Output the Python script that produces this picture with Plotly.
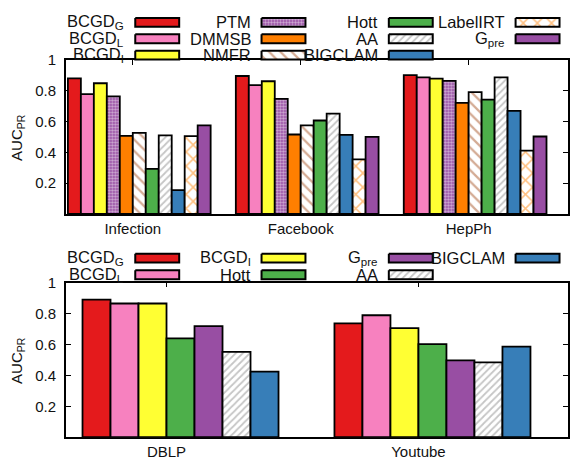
import plotly.graph_objects as go

W, H = 570, 466
FONT = "Liberation Sans, Arial, Helvetica, sans-serif"

# ---------------- data ----------------
top_groups = ["Infection", "Facebook", "HepPh"]
bottom_groups = ["DBLP", "Youtube"]

bcgd_g_top = [0.881, 0.896, 0.902]
bcgd_l_top = [0.779, 0.837, 0.887]
bcgd_i_top = [0.849, 0.862, 0.879]
ptm_top = [0.764, 0.747, 0.864]
dmmsb_top = [0.507, 0.516, 0.722]
nmfr_top = [0.527, 0.575, 0.792]
hott_top = [0.293, 0.607, 0.743]
aa_top = [0.510, 0.652, 0.887]
bigclam_top = [0.155, 0.514, 0.669]
labelirt_top = [0.505, 0.355, 0.412]
gpre_top = [0.575, 0.501, 0.503]

bcgd_g_bot = [0.890, 0.736]
bcgd_l_bot = [0.865, 0.789]
bcgd_i_bot = [0.865, 0.706]
hott_bot = [0.640, 0.602]
gpre_bot = [0.719, 0.497]
aa_bot = [0.552, 0.484]
bigclam_bot = [0.425, 0.586]

y_ticks = [0.2, 0.4, 0.6, 0.8, 1.0]
y_ticktext = ["0.2", "0.4", "0.6", "0.8", "1"]

# ---------------- styles ----------------
STYLE = {
    "BCGD<sub>G</sub>": dict(color="#e41a1c"),
    "BCGD<sub>L</sub>": dict(color="#f781bf"),
    "BCGD<sub>I</sub>": dict(color="#ffff33"),
    "PTM": dict(color="#984ea3", pattern=dict(shape=".", fgcolor="white", bgcolor="#984ea3",
                                              size=3, solidity=0.5)),
    "DMMSB": dict(color="#ff7f00"),
    "NMFR": dict(color="white", pattern=dict(shape="\\", fgcolor="#a9582a", bgcolor="white",
                                             size=8, solidity=0.28)),
    "Hott": dict(color="#4daf4a"),
    "AA": dict(color="white", pattern=dict(shape="/", fgcolor="#8c8c8c", bgcolor="white",
                                           size=5, solidity=0.35)),
    "BIGCLAM": dict(color="#377eb8"),
    "LabelIRT": dict(color="white", pattern=dict(shape="x", fgcolor="#ff7f00", bgcolor="white",
                                                 size=10, solidity=0.28)),
    "G<sub>pre</sub>": dict(color="#984ea3"),
}

top_series = [
    ("BCGD<sub>G</sub>", bcgd_g_top), ("BCGD<sub>L</sub>", bcgd_l_top),
    ("BCGD<sub>I</sub>", bcgd_i_top), ("PTM", ptm_top), ("DMMSB", dmmsb_top),
    ("NMFR", nmfr_top), ("Hott", hott_top), ("AA", aa_top),
    ("BIGCLAM", bigclam_top), ("LabelIRT", labelirt_top), ("G<sub>pre</sub>", gpre_top),
]
bottom_series = [
    ("BCGD<sub>G</sub>", bcgd_g_bot), ("BCGD<sub>L</sub>", bcgd_l_bot),
    ("BCGD<sub>I</sub>", bcgd_i_bot), ("Hott", hott_bot), ("G<sub>pre</sub>", gpre_bot),
    ("AA", aa_bot), ("BIGCLAM", bigclam_bot),
]

# legend layout: (name, column, row)
top_legend = [
    ("BCGD<sub>G</sub>", 0, 0), ("BCGD<sub>L</sub>", 0, 1), ("BCGD<sub>I</sub>", 0, 2),
    ("PTM", 1, 0), ("DMMSB", 1, 1), ("NMFR", 1, 2),
    ("Hott", 2, 0), ("AA", 2, 1), ("BIGCLAM", 2, 2),
    ("LabelIRT", 3, 0), ("G<sub>pre</sub>", 3, 1),
]
bottom_legend = [
    ("BCGD<sub>G</sub>", 0, 0), ("BCGD<sub>L</sub>", 0, 1),
    ("BCGD<sub>I</sub>", 1, 0), ("Hott", 1, 1),
    ("G<sub>pre</sub>", 2, 0), ("AA", 2, 1),
    ("BIGCLAM", 3, 0),
]

LEG_TEXT_RIGHT = [126.5, 253, 380.5, 507.5]   # px, right edge of each legend column's label
LEG_GAP, LEG_W, LEG_H = 9, 44, 9
TOP_ROWS_Y = [13.6, 30.3, 47.0]
BOT_ROWS_Y = [254.0, 271.0]

# panel geometry (px)
PLOT_L, PLOT_R = 66, 569
TOP_T, TOP_B = 52, 209
BOT_T, BOT_B = 279, 436.7

TOP_GROUP_W = 0.85
BOT_GROUP_W = 0.778

fig = go.Figure()


def add_panel(series, group_w, xa, ya, n_groups):
    n = len(series)
    bw = group_w / n
    for i, (name, vals) in enumerate(series):
        st = STYLE[name]
        marker = dict(color=st["color"], line=dict(color="black", width=1.8))
        if "pattern" in st:
            marker["pattern"] = st["pattern"]
        fig.add_trace(go.Bar(
            x=list(range(n_groups)), y=vals, name=name,
            width=bw, offset=-group_w / 2 + i * bw,
            marker=marker, xaxis=xa, yaxis=ya, showlegend=False,
        ))
    return bw


bw_top = add_panel(top_series, TOP_GROUP_W, "x", "y", len(top_groups))
bw_bot = add_panel(bottom_series, BOT_GROUP_W, "x2", "y2", len(bottom_groups))


# legend keys (label on the left, boxed sample on the right) on a pixel-space overlay
def add_legend(items, rows_y):
    for name, col, row in items:
        st = STYLE[name]
        x0 = LEG_TEXT_RIGHT[col] + LEG_GAP
        x1 = x0 + LEG_W
        yc = rows_y[row]
        y0, y1 = yc - LEG_H / 2, yc + LEG_H / 2
        kw = dict(fillcolor=st["color"])
        if "pattern" in st:
            kw["fillpattern"] = st["pattern"]
        fig.add_trace(go.Scatter(
            x=[x0, x1, x1, x0, x0], y=[y0, y0, y1, y1, y0],
            mode="lines", fill="toself", line=dict(color="black", width=2),
            xaxis="x3", yaxis="y3", showlegend=False, hoverinfo="skip", **kw,
        ))
        fig.add_annotation(
            x=LEG_TEXT_RIGHT[col], y=yc, xref="x3", yref="y3", text=name,
            showarrow=False, xanchor="right", yanchor="middle",
            font=dict(family=FONT, size=16.5, color="#111"),
        )


add_legend(top_legend, TOP_ROWS_Y)
add_legend(bottom_legend, BOT_ROWS_Y)

axis_common = dict(
    showline=True, linecolor="black", linewidth=1.5, mirror="ticks",
    ticks="inside", ticklen=5, tickwidth=1.2, tickcolor="black",
    showgrid=False, zeroline=False, layer="below traces",
    tickfont=dict(family=FONT, size=15, color="#111"),
)

fig.update_layout(
    width=W, height=H, margin=dict(l=0, r=0, t=0, b=0, pad=0),
    plot_bgcolor="rgba(0,0,0,0)", paper_bgcolor="white", barmode="overlay",
    font=dict(family=FONT, color="#111"),
    xaxis=dict(
        domain=[PLOT_L / W, PLOT_R / W], anchor="y", range=[-0.437, 2.553],
        tickvals=[i - bw_top / 2 for i in range(len(top_groups))],
        ticktext=top_groups, ticklabelstandoff=0, **axis_common,
    ),
    yaxis=dict(
        domain=[1 - TOP_B / H, 1 - TOP_T / H], anchor="x", range=[0, 1],
        tickvals=y_ticks, ticktext=y_ticktext, ticklabelstandoff=5, **axis_common,
    ),
    xaxis2=dict(
        domain=[PLOT_L / W, PLOT_R / W], anchor="y2", range=[-0.455, 1.538],
        tickvals=[i - bw_bot / 2 for i in range(len(bottom_groups))],
        ticktext=bottom_groups, ticklabelstandoff=0, **axis_common,
    ),
    yaxis2=dict(
        domain=[1 - BOT_B / H, 1 - BOT_T / H], anchor="x2", range=[0, 1],
        tickvals=y_ticks, ticktext=y_ticktext, ticklabelstandoff=5, **axis_common,
    ),
    xaxis3=dict(domain=[0, 1], range=[0, W], visible=False, anchor="y3", fixedrange=True),
    yaxis3=dict(domain=[0, 1], range=[H, 0], visible=False, anchor="x3", fixedrange=True),
)

for yc in [(TOP_T + TOP_B) / 2, (BOT_T + BOT_B) / 2]:
    fig.add_annotation(
        x=18 / W, y=1 - yc / H, xref="paper", yref="paper", text="AUC<sub>PR</sub>",
        textangle=-90, showarrow=False, xanchor="center", yanchor="middle",
        font=dict(family=FONT, size=15, color="#111"),
    )

fig.write_html("out.html")
